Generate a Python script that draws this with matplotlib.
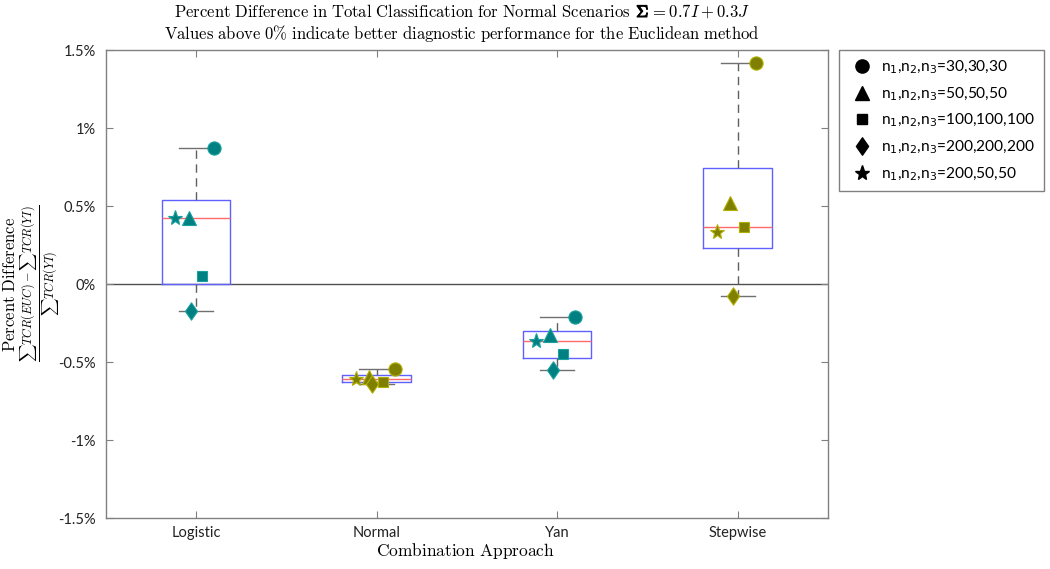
import numpy as np
import matplotlib
matplotlib.use("Agg")
import matplotlib.pyplot as plt
from matplotlib.lines import Line2D
from matplotlib.path import Path
from matplotlib.font_manager import FontProperties
from matplotlib import patheffects as pe

plt.rcParams['mathtext.fontset'] = 'cm'
plt.rcParams['font.family'] = ['Lato', 'DejaVu Sans']

# ---------------- data ----------------
categories = ['Logistic', 'Normal', 'Yan', 'Stepwise']
ytick_values = [-1.5, -1.0, -0.5, 0.0, 0.5, 1.0, 1.5]
ytick_labels = ['-1.5%', '-1%', '-0.5%', '0%', '0.5%', '1%', '1.5%']

series_labels = [r'n$_1$,n$_2$,n$_3$=30,30,30',
                 r'n$_1$,n$_2$,n$_3$=50,50,50',
                 r'n$_1$,n$_2$,n$_3$=100,100,100',
                 r'n$_1$,n$_2$,n$_3$=200,200,200',
                 r'n$_1$,n$_2$,n$_3$=200,50,50']
n30 = [0.872, -0.545, -0.209, 1.415]
n50 = [0.420, -0.594, -0.330, 0.517]
n100 = [0.053, -0.626, -0.447, 0.363]
n200 = [-0.171, -0.643, -0.551, -0.075]
n200_50 = [0.425, -0.609, -0.363, 0.331]
series_values = [n30, n50, n100, n200, n200_50]

# ---------------- styles ----------------
cat_face = ['#008080', '#808000', '#008080', '#808000']
cat_edge = ['#1aa0a0', '#b0b000', '#1aa0a0', '#b0b000']
diamond = Path([(0, 1), (0.7, 0), (0, -1), (-0.7, 0), (0, 1)],
               [Path.MOVETO, Path.LINETO, Path.LINETO, Path.LINETO, Path.CLOSEPOLY])
marker_styles = [dict(marker='o', ms=9.5, dx=0.10),
                 dict(marker='^', ms=10.5, dx=-0.04),
                 dict(marker='s', ms=7.0, dx=0.035),
                 dict(marker=diamond, ms=12.5, dx=-0.025),
                 dict(marker='*', ms=11.0, dx=-0.115)]

fig = plt.figure(figsize=(10.5, 5.69), dpi=100)
ax = fig.add_axes([105.7 / 1050, 1 - 518 / 569, (828 - 105.7) / 1050, 468 / 569])

positions = np.arange(1, len(categories) + 1)

# box statistics (MATLAB-style quantiles)
stats = []
for i in range(len(categories)):
    vals = np.array([s[i] for s in series_values])
    q1, med, q3 = np.percentile(vals, [25, 50, 75], method='hazen')
    stats.append(dict(med=med, q1=q1, q3=q3, whislo=vals.min(), whishi=vals.max(), fliers=[]))

ax.axhline(0, color='#505050', lw=1.0, zorder=1)

ax.bxp(stats, positions=positions, widths=0.38, capwidths=0.19, showfliers=False,
       boxprops=dict(color='#6060ff', lw=1.0),
       medianprops=dict(color='#ff6a6a', lw=1.0),
       whiskerprops=dict(color='#606060', lw=1.0, ls=(0, (6, 4))),
       capprops=dict(color='#707070', lw=1.0))

for j, vals in enumerate(series_values):
    st = marker_styles[j]
    for i, v in enumerate(vals):
        ax.plot(positions[i] + st['dx'], v, ls='none', marker=st['marker'], ms=st['ms'],
                mfc=cat_face[i], mec=cat_edge[i], mew=0.8, zorder=4)

ax.set_xlim(0.5, len(categories) + 0.5)
ax.set_ylim(-1.5, 1.5)
ax.set_xticks(positions)
ax.set_xticklabels(categories, fontsize=10.5)
ax.set_yticks(ytick_values)
ax.set_yticklabels(ytick_labels, fontsize=10.5)
ax.tick_params(direction='in', top=True, right=True, length=5, color='#808080',
               labelcolor='#222222', pad=6)
ax.tick_params(axis='y', pad=7)
for sp in ax.spines.values():
    sp.set_color('#808080')
    sp.set_linewidth(1.0)

# ---- title line 1 assembled from pieces so that Sigma can be bold ----
renderer = fig.canvas.get_renderer()
title_fs = 12.0
xc_title = 462 / 1050
pieces = [(r'$\mathrm{Percent\ Difference\ in\ Total\ Classification\ for\ Normal\ Scenarios}$', False, 5.5),
          (r'$\Sigma$', True, 0.5),
          (r'$= 0.7I + 0.3J$', False, 0)]
texts = []
for s, bold, gap in pieces:
    t = fig.text(0, 1 - 17 / 569, s, ha='left', va='baseline', fontsize=title_fs)
    if bold:
        t.set_path_effects([pe.withStroke(linewidth=0.9, foreground='black')])
    texts.append((t, gap))
widths = [t.get_window_extent(renderer).width + gap for t, gap in texts]
x = xc_title * 1050 - sum(widths) / 2
for (t, gap), w in zip(texts, widths):
    t.set_x(x / 1050)
    x += w

fig.text(xc_title, 1 - 33 / 569,
         r'$\mathrm{Values\ above\ 0\%\ indicate\ better\ diagnostic\ performance\ for\ the\ Euclidean\ method}$',
         ha='center', va='center', fontsize=title_fs)
fig.text(465 / 1050, 1 - 551 / 569,
         r'$\mathrm{Combination\ Approach}$', ha='center', va='center', fontsize=12.5)

fig.text(10.5 / 1050, 1 - 285 / 569, r'$\mathrm{Percent\ Difference}$',
         rotation=90, ha='center', va='center', fontsize=12)
fig.text(40 / 1050, 1 - 283 / 569,
         r'$\frac{\sum TCR(EUC) - \sum TCR(YI)}{\sum TCR(YI)}$',
         rotation=90, ha='center', va='center', fontsize=12.5)

handles = [Line2D([], [], ls='none', marker=st['marker'], ms=st['ms'], mfc='black', mec='black')
           for st in marker_styles]
fig.legend(handles, series_labels, loc='upper left', bbox_to_anchor=(839 / 1050, 1 - 50 / 569),
           borderaxespad=0, borderpad=0.55, handlelength=1.9, handletextpad=0.25, labelspacing=0.6,
           fancybox=False, edgecolor='#808080', framealpha=1,
           prop=FontProperties(family=['Lato', 'DejaVu Sans'], size=11.2, math_fontfamily='dejavusans'))

fig.savefig('out.png', dpi=100)
